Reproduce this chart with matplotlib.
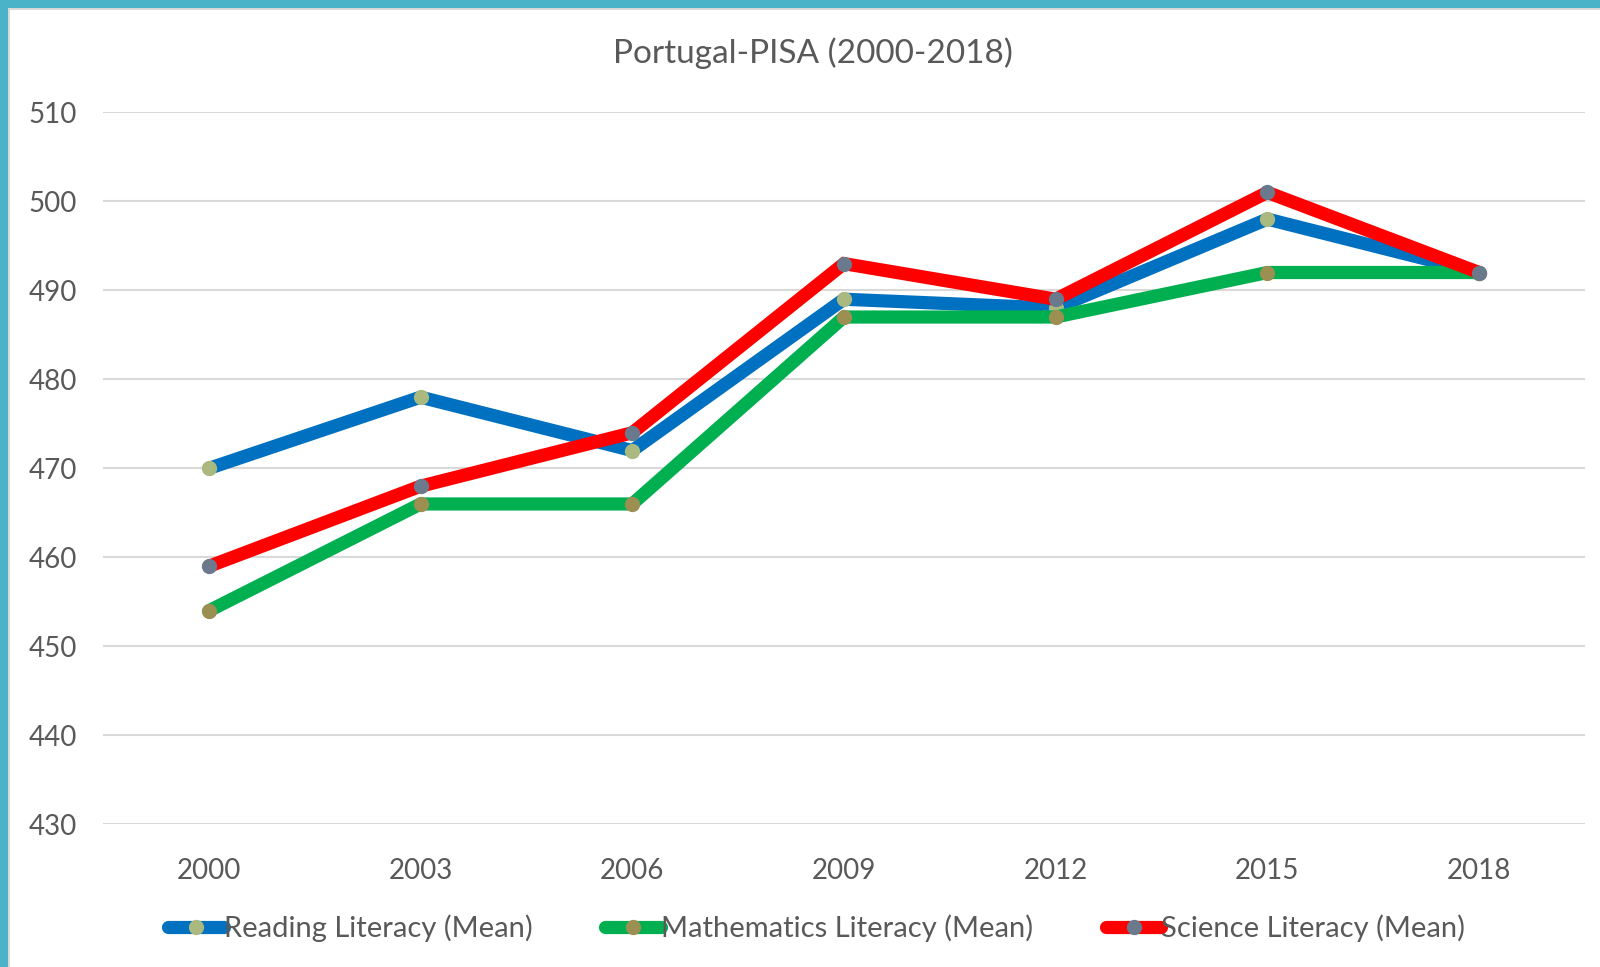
import numpy as np
import matplotlib.pyplot as plt
from matplotlib.patches import Rectangle

plt.rcParams['font.family'] = ['Lato', 'DejaVu Sans']

years = ["2000", "2003", "2006", "2009", "2012", "2015", "2018"]
reading = [470, 478, 472, 489, 488, 498, 492]
maths = [454, 466, 466, 487, 487, 492, 492]
science = [459, 468, 474, 493, 489, 501, 492]
labels = ["Reading Literacy (Mean)", "Mathematics Literacy (Mean)", "Science Literacy (Mean)"]
yticks = [430, 440, 450, 460, 470, 480, 490, 500, 510]

txt = "#595959"
fig = plt.figure(figsize=(16, 9.67), dpi=100)
ax = fig.add_axes([0.0644, 0.1474, 0.9262, 0.7365])

# frame of the screenshot (teal band + thin grey line, top and left)
W, H = 1600, 967
fig.add_artist(Rectangle((0, 0), 8 / W, 1, transform=fig.transFigure, color="#4BB3C8", lw=0))
fig.add_artist(Rectangle((0, 1 - 8 / H), 1, 8 / H, transform=fig.transFigure, color="#4BB3C8", lw=0))
fig.add_artist(Rectangle((8 / W, 0), 2 / W, 1 - 8 / H, transform=fig.transFigure, color="#D9D9D9", lw=0))
fig.add_artist(Rectangle((8 / W, 1 - 10 / H), 1, 2 / H, transform=fig.transFigure, color="#D9D9D9", lw=0))

x = np.arange(len(years))
series = [(reading, "#0070C0", "#A9B97F"), (maths, "#00B050", "#9C8F52"), (science, "#FF0000", "#6A7A8C")]
for i, (vals, lc, mc) in enumerate(series):
    ax.plot(x, vals, color=lc, lw=9.5, solid_capstyle="round", solid_joinstyle="miter",
            marker="o", ms=10, mfc=mc, mec=mc, label=labels[i], zorder=3 + i)

ax.set_xlim(-0.5, len(years) - 0.5)
ax.set_ylim(430, 510)
ax.set_yticks(yticks)
ax.set_xticks(x)
ax.set_xticklabels(years)
ax.grid(axis="y", color="#D9D9D9", lw=1.5)
ax.set_axisbelow(True)
for s in ax.spines.values():
    s.set_visible(False)
ax.tick_params(length=0, labelsize=20, labelcolor=txt)
ax.tick_params(axis="y", pad=19)
ax.tick_params(axis="x", pad=24)

fig.text(0.508, 1 - 53 / H, "Portugal-PISA (2000-2018)", ha="center", va="center", fontsize=24, color=txt)

leg = fig.legend(loc="center", bbox_to_anchor=(0.5105, 0.04), ncol=3, frameon=False, fontsize=21,
                 handlelength=1.9, handletextpad=0.0, columnspacing=2.5, labelcolor=txt)
for h in leg.legend_handles:
    h.set_solid_capstyle("round")

plt.savefig("out.png")
